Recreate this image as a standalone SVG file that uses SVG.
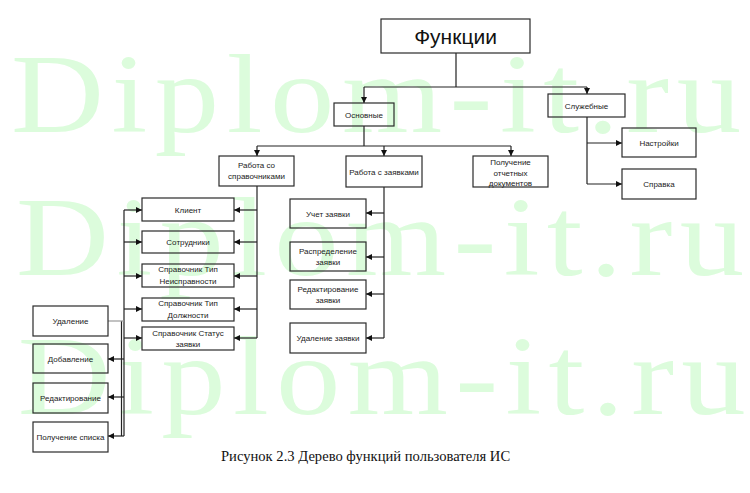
<svg xmlns="http://www.w3.org/2000/svg" width="750" height="493" viewBox="0 0 750 493">
<defs>
<marker id="ah" markerUnits="userSpaceOnUse" markerWidth="6" markerHeight="6" refX="6" refY="3" orient="auto">
<path d="M0,0 L6,3 L0,6 z" fill="#111"/>
</marker>
<style>
.wm{font-family:"Liberation Serif",serif;font-size:112px;fill:#dcfcdc}
.b{fill:none;stroke:#2a2a2a;stroke-width:1.2}
.t{font-family:"Liberation Sans",Arial,sans-serif;font-size:8px;fill:#222;text-anchor:middle}
.big{font-family:"Liberation Sans",Arial,sans-serif;font-size:21px;fill:#111;text-anchor:middle}
.c{fill:none;stroke:#222;stroke-width:1.2}
.ca{fill:none;stroke:#222;stroke-width:1.2;marker-end:url(#ah)}
.cap{font-family:"Liberation Serif","Times New Roman",serif;font-size:14.6px;fill:#111}
</style>
</defs>
<rect width="750" height="493" fill="#fff"/>
<g id="watermark" transform="scale(1.15,1)">
<text class="wm" x="9.5" y="132" textLength="635" lengthAdjust="spacing">Diplom-it.ru</text>
<text class="wm" x="14" y="275" textLength="633" lengthAdjust="spacing">Diplom-it.ru</text>
<text class="wm" x="15.5" y="414" textLength="633" lengthAdjust="spacing">Diplom-it.ru</text>
</g>
<g id="connectors">
<path class="c" d="M456,53 V87 M364,87 H587"/>
<path class="ca" d="M364,87 V103"/>
<path class="ca" d="M587,87 V94"/>
<path class="c" d="M364,126 V146 M257,146 H511"/>
<path class="ca" d="M257,146 V156"/>
<path class="ca" d="M384,146 V156"/>
<path class="ca" d="M511,146 V156"/>
<path class="c" d="M587,117 V184"/>
<path class="ca" d="M587,143 H622"/>
<path class="ca" d="M587,184 H622"/>
<path class="c" d="M257,186 V338"/>
<path class="ca" d="M257,210 H234"/>
<path class="ca" d="M257,242 H234"/>
<path class="ca" d="M257,276 H234"/>
<path class="ca" d="M257,309 H234"/>
<path class="ca" d="M257,338 H234"/>
<path class="c" d="M384,187 V338"/>
<path class="ca" d="M384,213 H366"/>
<path class="ca" d="M384,257 H366"/>
<path class="ca" d="M384,294 H366"/>
<path class="ca" d="M384,338 H366"/>
<path class="c" d="M124,210 V436 M121.5,321 V436"/>
<path class="ca" d="M124,210 H142"/>
<path class="ca" d="M124,242 H142"/>
<path class="ca" d="M124,276 H142"/>
<path class="ca" d="M124,309 H142"/>
<path class="ca" d="M124,338 H142"/>
<path class="ca" d="M124,359 H108"/>
<path class="ca" d="M124,397 H108"/>
<path class="ca" d="M124,436 H108"/>
<path d="M108,321 H124" fill="none" stroke="#999" stroke-width="1.2"/>
</g>
<g id="n-funkcii"><rect class="b" x="381" y="19" width="149" height="34"/><text class="big" x="455.5" y="43.5">Функции</text></g>
<g id="n-osnovnye"><rect class="b" x="334" y="103" width="60" height="23"/><text class="t" x="364" y="117.5">Основные</text></g>
<g id="n-sluzhebnye"><rect class="b" x="548" y="94" width="77" height="23"/><text class="t" x="586.5" y="108.5">Служебные</text></g>
<g id="n-nastroyki"><rect class="b" x="622" y="128" width="74" height="29"/><text class="t" x="659" y="145.5">Настройки</text></g>
<g id="n-spravka"><rect class="b" x="622" y="169" width="74" height="30"/><text class="t" x="659" y="187">Справка</text></g>
<g id="n-sprav"><rect class="b" x="219" y="156" width="75" height="30"/><text class="t" x="256.5" y="168">Работа со</text><text class="t" x="256.5" y="179">справочниками</text></g>
<g id="n-zayavki"><rect class="b" x="346" y="156" width="76" height="31"/><text class="t" x="384" y="174.5">Работа с заявками</text></g>
<g id="n-otchet"><rect class="b" x="473" y="156" width="75" height="31"/><text class="t" x="510.5" y="165">Получение</text><text class="t" x="510.5" y="176">отчетных</text><text class="t" x="510.5" y="186">документов</text></g>
<g id="n-klient"><rect class="b" x="142" y="198" width="92" height="23"/><text class="t" x="188" y="212.5">Клиент</text></g>
<g id="n-sotrudniki"><rect class="b" x="142" y="231" width="92" height="22"/><text class="t" x="188" y="245">Сотрудники</text></g>
<g id="n-neispr"><rect class="b" x="142" y="264" width="92" height="23"/><text class="t" x="188" y="272">Справочник Тип</text><text class="t" x="188" y="284">Неисправности</text></g>
<g id="n-dolzh"><rect class="b" x="142" y="298" width="92" height="23"/><text class="t" x="188" y="306">Справочник Тип</text><text class="t" x="188" y="318">Должности</text></g>
<g id="n-status"><rect class="b" x="142" y="327" width="92" height="23"/><text class="t" x="188" y="336">Справочник Статус</text><text class="t" x="188" y="347">заявки</text></g>
<g id="n-uchet"><rect class="b" x="290" y="199" width="76" height="29"/><text class="t" x="328" y="216.5">Учет заявки</text></g>
<g id="n-raspr"><rect class="b" x="290" y="242" width="76" height="29"/><text class="t" x="328" y="253.5">Распределение</text><text class="t" x="328" y="265">заявки</text></g>
<g id="n-redzay"><rect class="b" x="290" y="280" width="76" height="29"/><text class="t" x="328" y="291.5">Редактирование</text><text class="t" x="328" y="303">заявки</text></g>
<g id="n-udzay"><rect class="b" x="290" y="323" width="76" height="30"/><text class="t" x="328" y="341">Удаление заявки</text></g>
<g id="n-udalenie"><rect class="b" x="33" y="306" width="75" height="30"/><text class="t" x="70.5" y="324">Удаление</text></g>
<g id="n-dobavlenie"><rect class="b" x="33" y="344" width="75" height="29"/><text class="t" x="70.5" y="361.5">Добавление</text></g>
<g id="n-redakt"><rect class="b" x="33" y="383" width="75" height="30"/><text class="t" x="70.5" y="401">Редактирование</text></g>
<g id="n-poluch"><rect class="b" x="33" y="422" width="75" height="30"/><text class="t" x="70.5" y="440">Получение списка</text></g>
<text class="cap" x="221" y="461">Рисунок 2.3 Дерево функций пользователя ИС</text>
</svg>
